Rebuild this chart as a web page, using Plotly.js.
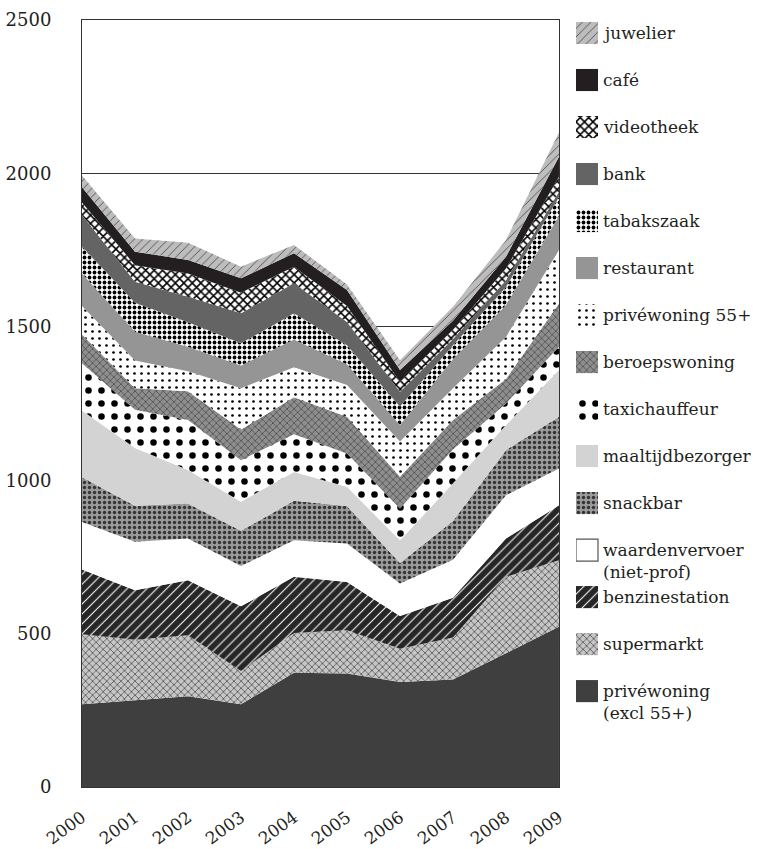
<!DOCTYPE html>
<html>
<head>
<meta charset="utf-8">
<script src="https://cdn.plot.ly/plotly-3.0.1.min.js"></script>
<style>
  html, body { margin: 0; padding: 0; background: #ffffff; }
  #chart { width: 762px; height: 849px; }
</style>
</head>
<body>
<div id="chart"></div>
<script>
// ---- data (bottom of stack first) ----
const years = [2000, 2001, 2002, 2003, 2004, 2005, 2006, 2007, 2008, 2009];

const priveExcl55     = [270, 283, 296, 270, 372, 370, 342, 350, 435, 522];
const supermarkt      = [228, 197, 199, 108, 130, 141, 109, 137, 250, 217];
const benzinestation  = [211, 161, 179, 211, 183, 157, 106, 130, 125, 179];
const waardenvervoer  = [155, 158, 136, 131, 119, 126, 106, 124, 141, 120];
const snackbar        = [146, 118, 114, 115, 129, 122,  67, 126, 147, 169];
const maaltijd        = [217, 188, 109,  95,  94,  63,  74, 123,  82, 152];
const taxichauffeur   = [154, 125, 163, 135, 123, 108, 104, 110,  70,  76];
const beroepswoning   = [ 94,  70,  94, 100, 120, 120, 103,  96,  80, 141];
const prive55         = [ 93,  90,  65, 135,  98, 103, 115, 104, 137, 174];
const restaurant      = [106,  94,  80,  74,  91,  68,  54,  95, 104, 112];
const tabakszaak      = [ 88,  94,  80,  72,  85,  62,  60,  45,  59,  61];
const bank            = [102,  69,  83,  98,  98,  76,  48,  20,  22,  17];
const videotheek      = [ 41,  54,  76,  67,  54,  52,  33,  30,  38,  49];
const cafe            = [ 50,  44,  44,  47,  44,  52,  38,  30,  38,  65];
const juwelier        = [ 38,  43,  56,  38,  27,  18,  32,  45,  55,  79];

const seriesNames = ['privéwoning (excl 55+)', 'supermarkt', 'benzinestation',
  'waardenvervoer (niet-prof)', 'snackbar', 'maaltijdbezorger', 'taxichauffeur',
  'beroepswoning', 'privéwoning 55+', 'restaurant', 'tabakszaak', 'bank',
  'videotheek', 'café', 'juwelier'];
const seriesValues = [priveExcl55, supermarkt, benzinestation, waardenvervoer,
  snackbar, maaltijd, taxichauffeur, beroepswoning, prive55, restaurant,
  tabakszaak, bank, videotheek, cafe, juwelier];
const legendLabels = ['privéwoning<br>(excl 55+)', 'supermarkt', 'benzinestation',
  'waardenvervoer<br>(niet-prof)', 'snackbar', 'maaltijdbezorger', 'taxichauffeur',
  'beroepswoning', 'privéwoning 55+', 'restaurant', 'tabakszaak', 'bank',
  'videotheek', 'café', 'juwelier'];
const yTicks = [0, 500, 1000, 1500, 2000, 2500];

// ---- styles (same order as series) ----
const styles = [
  {bg: '#3f3f3f', fg: '#3f3f3f', shape: '',  size: 8, sol: 0.3},
  {bg: '#c6c6c6', fg: '#555555', shape: 'x', size: 5, sol: 0.3},
  {bg: '#262626', fg: '#ffffff', shape: '/', size: 7, sol: 0.15},
  {bg: '#ffffff', fg: '#ffffff', shape: '',  size: 8, sol: 0.3},
  {bg: '#9a9a9a', fg: '#333333', shape: '.', size: 5, sol: 0.35},
  {bg: '#d3d3d3', fg: '#d3d3d3', shape: '',  size: 8, sol: 0.3},
  {bg: '#ffffff', fg: '#000000', shape: '.', size: 13, sol: 0.2},
  {bg: '#8e8e8e', fg: '#444444', shape: 'x', size: 5, sol: 0.25},
  {bg: '#ffffff', fg: '#000000', shape: '.', size: 7, sol: 0.12},
  {bg: '#959595', fg: '#959595', shape: '',  size: 8, sol: 0.3},
  {bg: '#ffffff', fg: '#000000', shape: '.', size: 5, sol: 0.45},
  {bg: '#646464', fg: '#646464', shape: '',  size: 8, sol: 0.3},
  {bg: '#ffffff', fg: '#000000', shape: 'x', size: 6, sol: 0.45},
  {bg: '#231f20', fg: '#231f20', shape: '',  size: 8, sol: 0.3},
  {bg: '#bdbdbd', fg: '#333333', shape: '/', size: 6, sol: 0.12}
];

const FONT = 'DejaVu Serif';
const TXT = '#231f20';

const traces = seriesNames.map((name, i) => ({
  type: 'scatter',
  mode: 'lines',
  x: years,
  y: seriesValues[i],
  name: name,
  stackgroup: 'one',
  line: {width: 0, color: styles[i].bg},
  fillcolor: styles[i].bg,
  fillpattern: {
    shape: styles[i].shape,
    bgcolor: styles[i].bg,
    fgcolor: styles[i].fg,
    size: styles[i].size,
    solidity: styles[i].sol,
    fillmode: 'replace'
  },
  showlegend: false,
  hoverinfo: 'skip'
}));

// ---- custom legend: one horizontal bar per series, drawn top to bottom ----
const order = seriesNames.map((_, i) => seriesNames.length - 1 - i);
const legLabels = order.map(i => legendLabels[i]);
order.forEach(i => {
  const st = styles[i];
  const isWhite = seriesNames[i].startsWith('waarden');
  traces.push({
    type: 'bar',
    orientation: 'h',
    xaxis: 'x2',
    yaxis: 'y2',
    y: [legendLabels[i]],
    x: [1],
    width: 0.47,
    name: seriesNames[i],
    marker: {
      color: st.bg,
      line: {width: isWhite ? 1.2 : 0, color: '#555555'},
      pattern: {
        shape: st.shape,
        bgcolor: st.bg,
        fgcolor: st.fg,
        size: st.size,
        solidity: st.sol,
        fillmode: 'replace'
      }
    },
    showlegend: false,
    hoverinfo: 'skip'
  });
});

const annotations = legLabels.map(lbl => ({
  xref: 'x2', yref: 'y2',
  x: 1.12, y: lbl,
  xanchor: 'left', yanchor: 'top',
  yshift: 12,
  align: 'left',
  showarrow: false,
  text: lbl,
  font: {family: FONT, size: 17, color: TXT}
}));

const layout = {
  width: 762,
  height: 849,
  margin: {l: 82, r: 2, t: 20, b: 62},
  paper_bgcolor: '#ffffff',
  plot_bgcolor: '#ffffff',
  showlegend: false,
  barmode: 'overlay',
  font: {family: FONT, size: 17, color: TXT},
  xaxis: {
    domain: [0, 0.7035],
    range: [2000, 2009],
    tickvals: years,
    ticktext: years.map(String),
    tickangle: -36,
    ticks: 'outside', ticklen: 13, tickcolor: 'rgba(0,0,0,0)',
    showgrid: false, zeroline: false,
    showline: true, mirror: true, linecolor: '#333333', linewidth: 1,
    tickfont: {family: FONT, size: 17, color: TXT},
    fixedrange: true
  },
  yaxis: {
    range: [0, 2500],
    tickvals: yTicks,
    ticktext: yTicks.map(String),
    ticks: 'outside', ticklen: 26, tickcolor: 'rgba(0,0,0,0)',
    showgrid: true, gridcolor: '#333333', gridwidth: 1,
    zeroline: false,
    showline: true, mirror: true, linecolor: '#333333', linewidth: 1,
    tickfont: {family: FONT, size: 18, color: TXT},
    fixedrange: true
  },
  xaxis2: {
    domain: [0.7286, 1],
    anchor: 'y2',
    range: [0, 8.36],
    visible: false,
    fixedrange: true
  },
  yaxis2: {
    domain: [0, 1],
    anchor: 'x2',
    type: 'category',
    categoryorder: 'array',
    categoryarray: legLabels,
    range: [16.04, -0.2766],
    visible: false,
    fixedrange: true
  },
  annotations: annotations
};

Plotly.newPlot('chart', traces, layout, {staticPlot: true, displayModeBar: false});
</script>
</body>
</html>
